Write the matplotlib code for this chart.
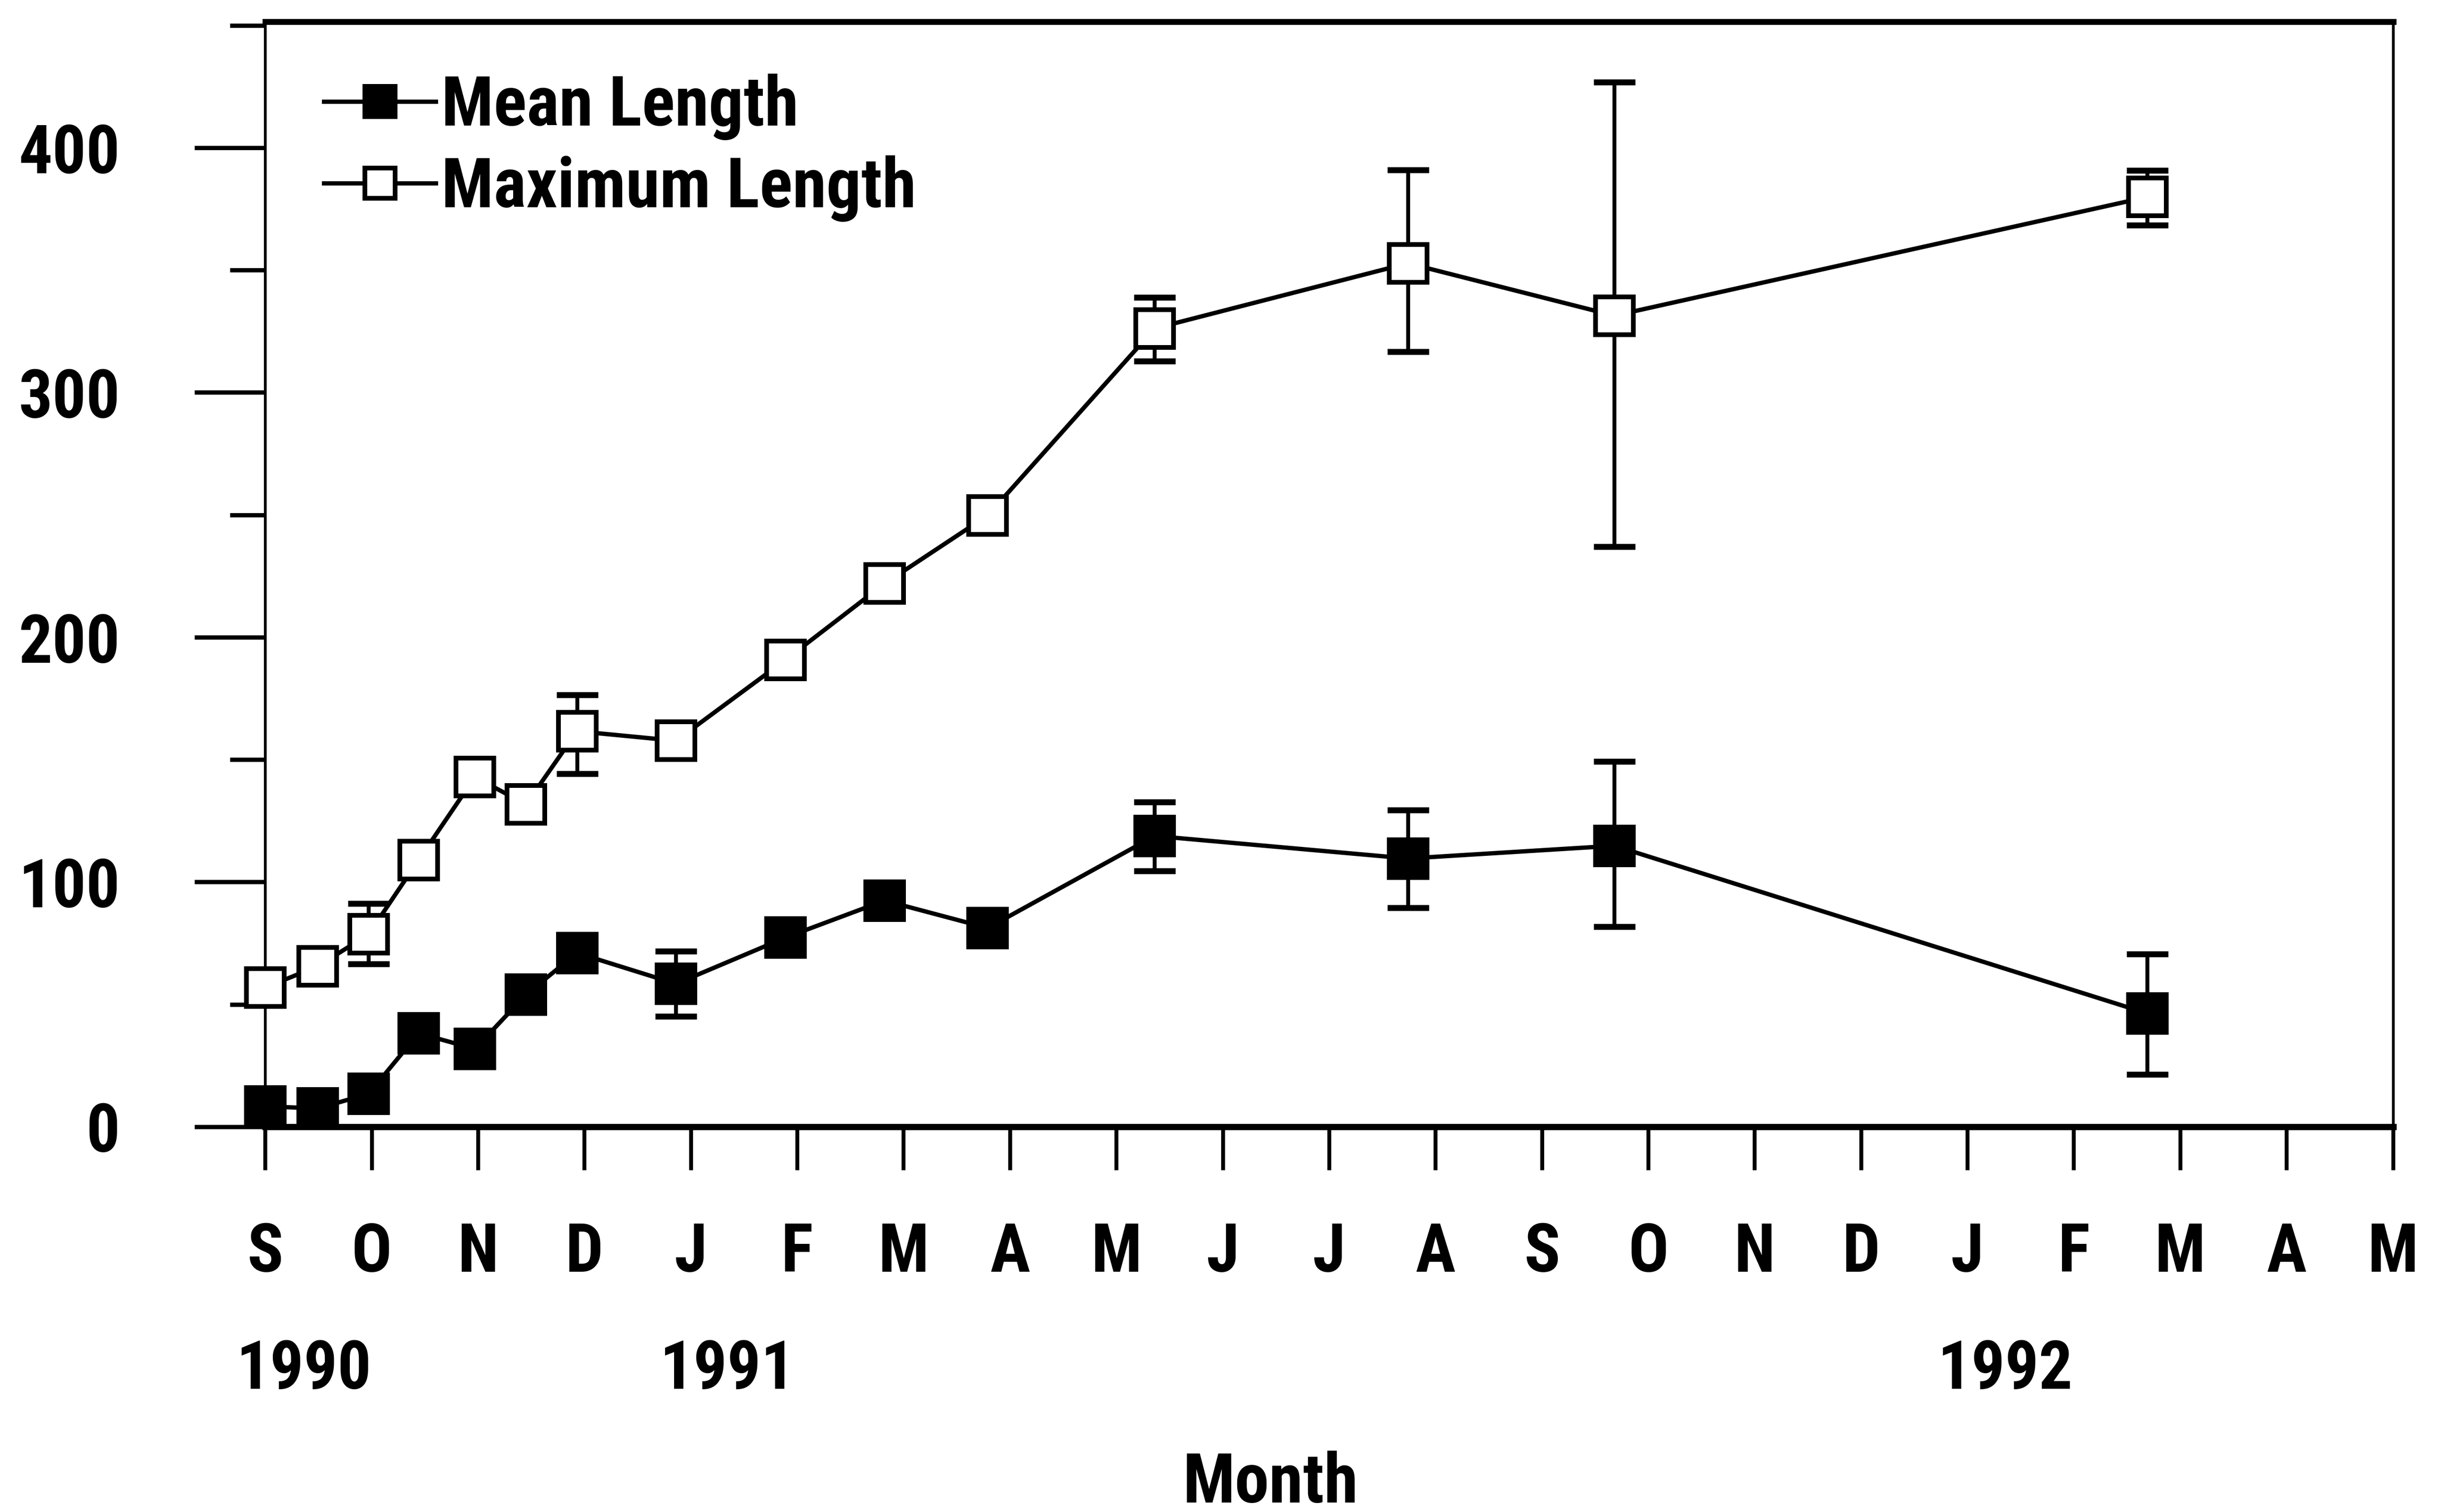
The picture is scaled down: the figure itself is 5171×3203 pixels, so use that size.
import numpy as np
import matplotlib
matplotlib.use('Agg')
import matplotlib.pyplot as plt
from matplotlib.ticker import MultipleLocator, FixedLocator

# narrow bold sans for all the lettering
plt.rcParams['font.family'] = ['Roboto Condensed', 'DejaVu Sans']
plt.rcParams['font.weight'] = 'bold'

# sampling dates, in months after the start of September 1990
months = [0, 0.49, 0.97, 1.44, 1.97, 2.45, 2.93, 3.86, 4.89, 5.82, 6.79, 8.36, 10.74, 12.68, 17.69]

mean_len = [8.3, 7.5, 13.4, 38.2, 31.8, 54.0, 71.0, 58.4, 77.3, 92.4, 81.2, 118.8, 109.6, 114.8, 46.3]
max_len = [56.9, 65.5, 78.6, 109.0, 142.9, 131.7, 161.6, 157.7, 190.8, 221.9, 249.8, 326.2, 352.8, 331.4, 379.9]

# error bar ends (low, high) for the samples that have them, by sample index
mean_err = {7: (45.1, 71.7), 11: (104.5, 132.7), 12: (89.4, 129.4), 13: (81.8, 149.2), 14: (21.4, 70.6)}
max_err = {2: (66.5, 91.2), 6: (144.3, 176.5), 11: (312.8, 338.8), 12: (316.6, 391.0),
           13: (237.1, 426.9), 14: (368.4, 390.7)}

month_labels = ['S', 'O', 'N', 'D', 'J', 'F', 'M', 'A', 'M', 'J', 'J', 'A',
                'S', 'O', 'N', 'D', 'J', 'F', 'M', 'A', 'M']
years = ['1990', '1991', '1992']
year_pos = [0.36, 4.34, 16.35]

fig = plt.figure(figsize=(17.24, 10.677), dpi=300)
ax = fig.add_axes([0.1087, 0.2548, 0.9802 - 0.1087, 0.9856 - 0.2548])


def draw_errors(err):
    idx = sorted(err)
    xs = [months[i] for i in idx]
    lo = np.array([err[i][0] for i in idx])
    hi = np.array([err[i][1] for i in idx])
    mid = (lo + hi) / 2
    ax.errorbar(xs, mid, yerr=[mid - lo, hi - mid], fmt='none', ecolor='black',
                elinewidth=2.0, capsize=10.5, capthick=3.0, zorder=2, clip_on=False)


draw_errors(mean_err)
draw_errors(max_err)

ax.plot(months, mean_len, '-s', color='black', lw=2.2, ms=19, mfc='black', mec='black',
        mew=2.4, zorder=3, clip_on=False, label='Mean Length')
ax.plot(months, max_len, '-s', color='black', lw=2.2, ms=19, mfc='white', mec='black',
        mew=2.4, zorder=3, clip_on=False, label='Maximum Length')

ax.set_xlim(0, 20)
ax.set_ylim(0, 451.5)

ax.xaxis.set_major_locator(FixedLocator(range(len(month_labels))))
ax.set_xticklabels(month_labels)
ax.yaxis.set_major_locator(MultipleLocator(100))
ax.yaxis.set_minor_locator(MultipleLocator(50))

ax.tick_params(axis='x', which='major', direction='out', length=22, width=2.0,
               pad=26, labelsize=34)
ax.tick_params(axis='y', which='major', direction='out', length=36, width=2.2,
               pad=38, labelsize=34)
ax.tick_params(axis='y', which='minor', direction='out', length=18, width=2.2)

ax.spines['top'].set_linewidth(3.0)
ax.spines['bottom'].set_linewidth(3.2)
ax.spines['left'].set_linewidth(1.4)
ax.spines['right'].set_linewidth(1.4)

for yr, xp in zip(years, year_pos):
    ax.text(xp, -0.2204, yr, transform=ax.get_xaxis_transform(), ha='center',
            va='center', fontsize=34, fontweight='bold')

fig.text(0.5204, 1 - 965 / 971, 'Month', ha='center', va='baseline', fontsize=35,
         fontweight='bold')

ax.legend(loc='center left', bbox_to_anchor=(0.0274, 0.886), frameon=False,
          fontsize=35, borderpad=0, borderaxespad=0, handlelength=1.63,
          handletextpad=0.08, labelspacing=0.22, markerscale=0.8, numpoints=1)

fig.savefig('out.png', dpi=300, facecolor='white')
